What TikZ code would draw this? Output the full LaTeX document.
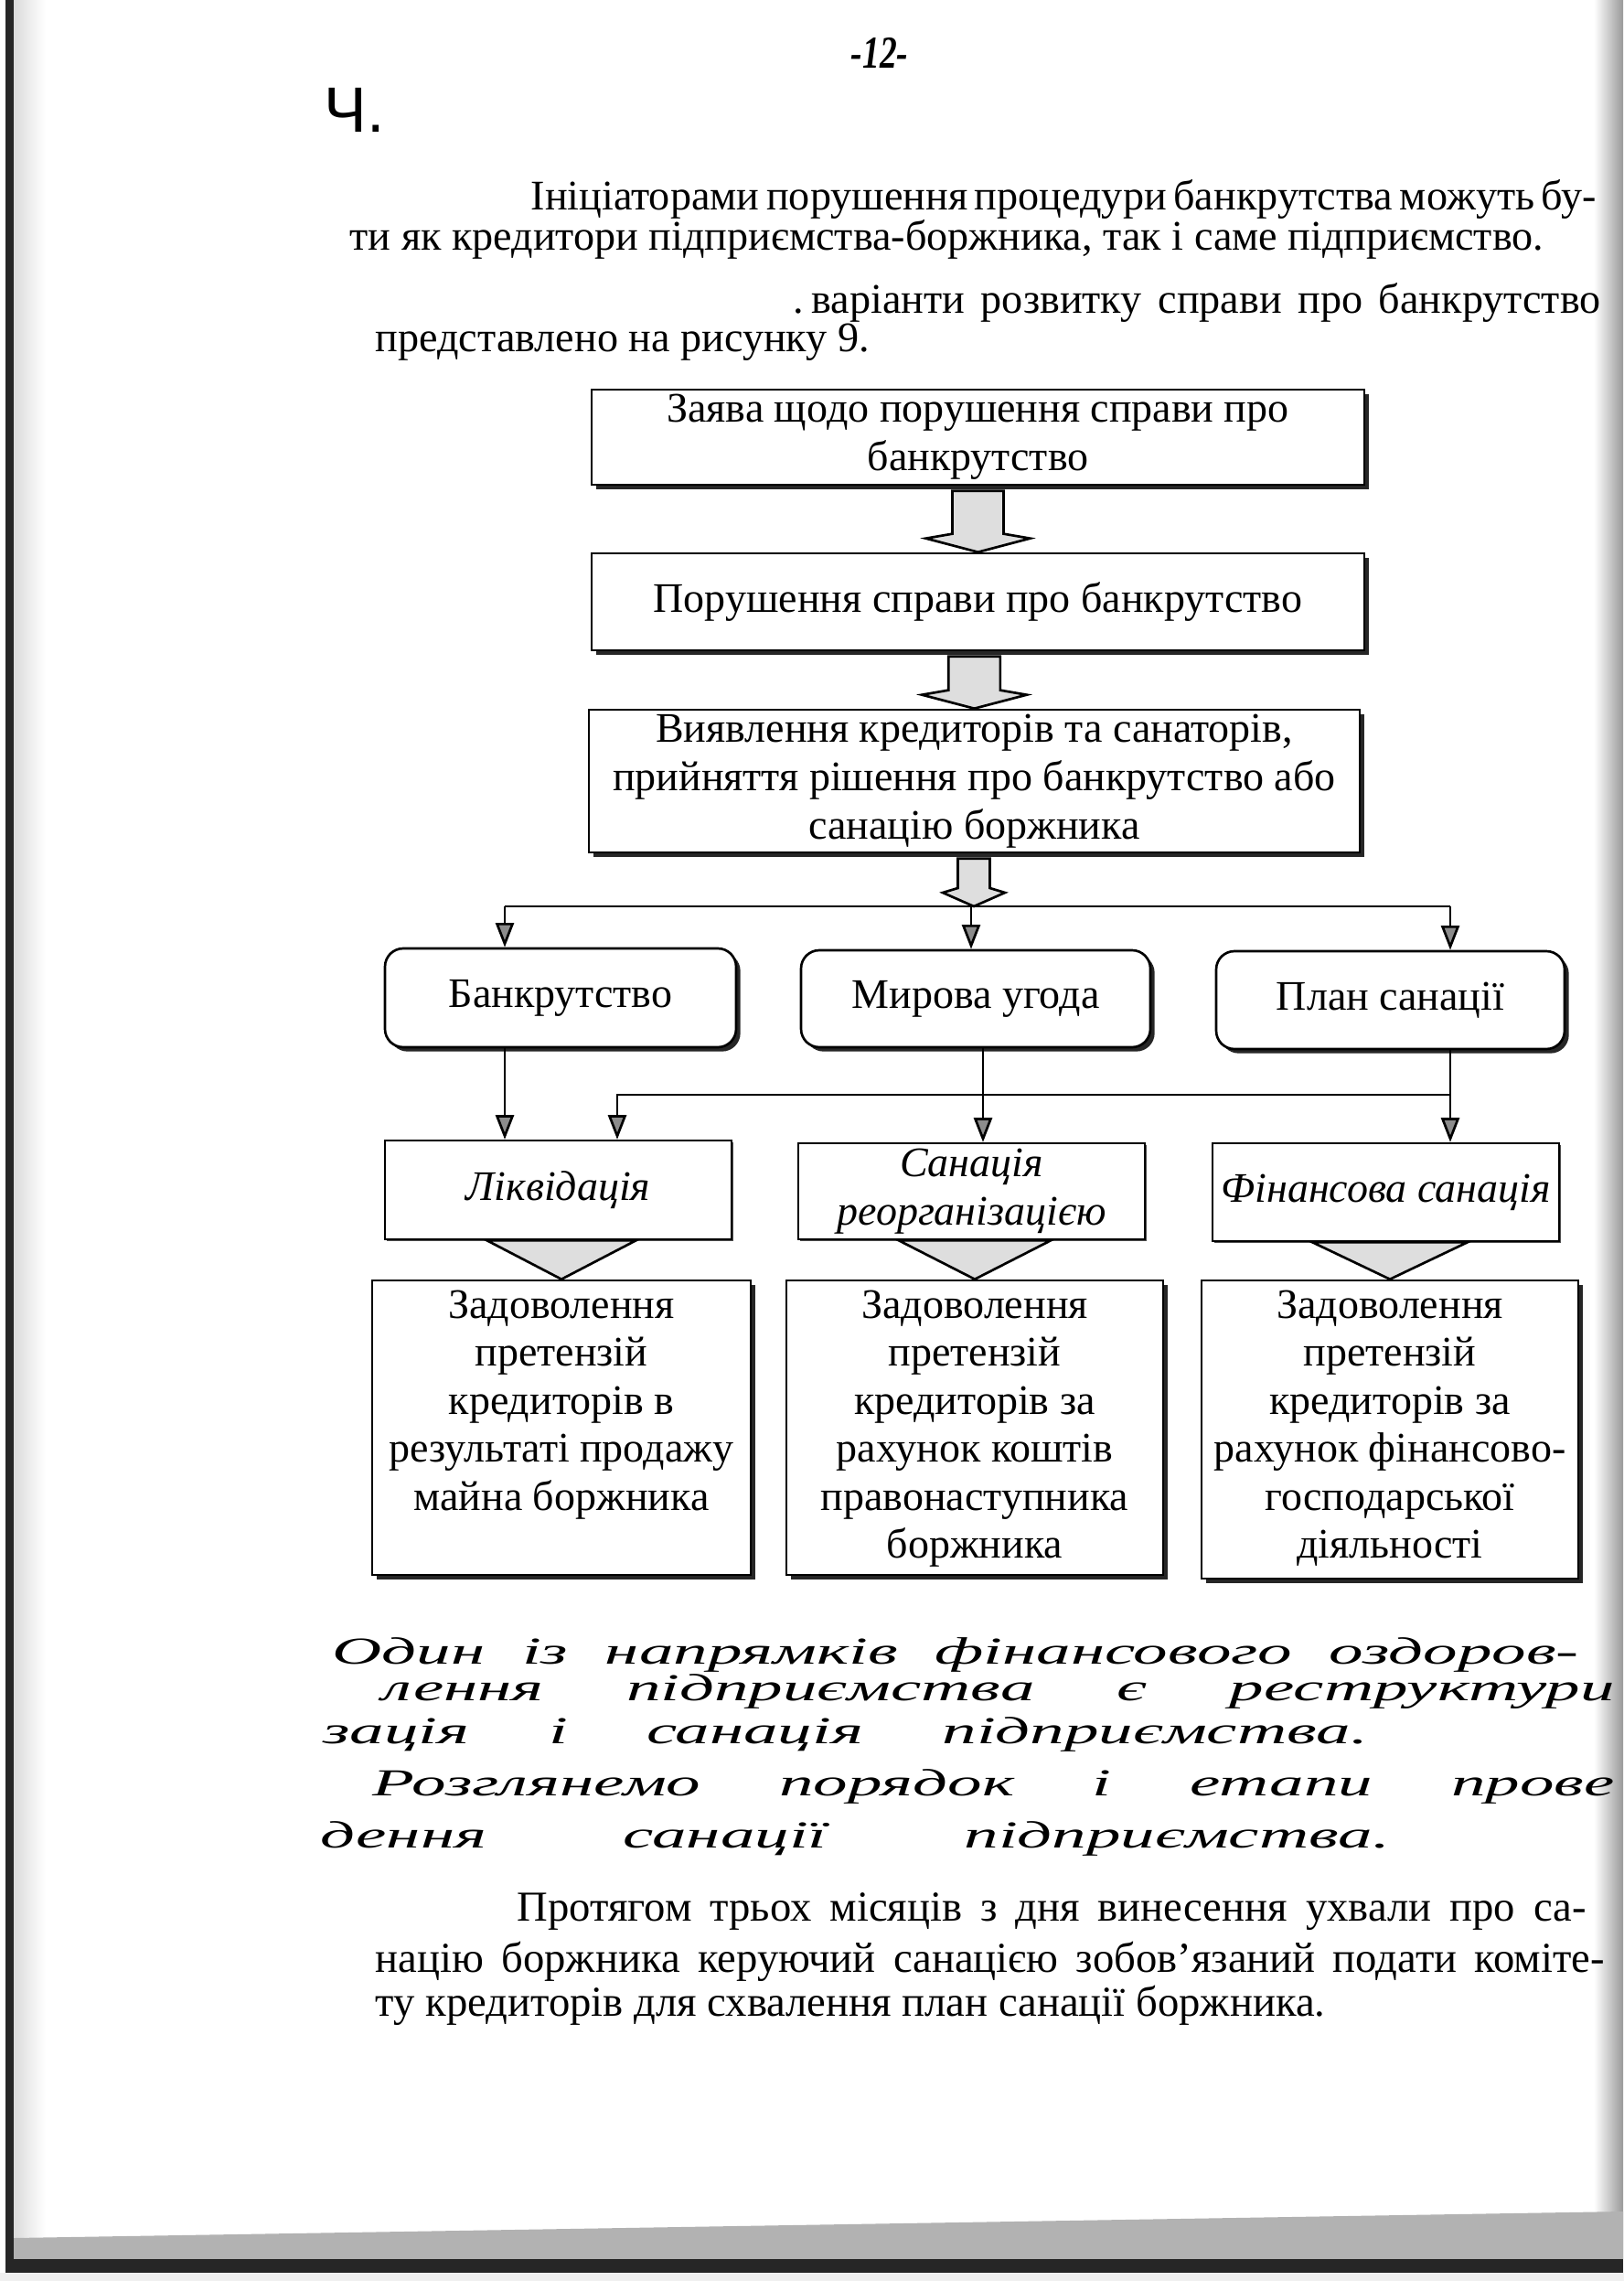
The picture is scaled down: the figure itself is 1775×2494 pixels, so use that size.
\documentclass[tikz,border=0pt]{standalone}
\usepackage{fontspec}
\setmainfont{Liberation Serif}
\newfontfamily\handfont[FakeStretch=1.8]{Liberation Serif}
\newfontfamily\sansf{Liberation Sans}
\usetikzlibrary{shadows,arrows.meta,calc}
\newcommand\fatarr[6]{%
  \draw[fatarrow] let \p1=(#1), \p2=(#2) in
    (\x2-#3,\y1) -- (\x2-#3,\y2+#6) -- (\x2-#4,\y2+#5) -- (\x2,\y2) --
    (\x2+#4,\y2+#5) -- (\x2+#3,\y2+#6) -- (\x2+#3,\y1) -- cycle;}
\tikzset{
  boxfont/.style={font=\fontsize{13.8}{16}\selectfont},
  sqbox/.style={draw, line width=0.8pt, fill=white, inner sep=1pt, align=center, boxfont,
    drop shadow={shadow xshift=1.4pt, shadow yshift=-1.4pt, fill=black, opacity=0.85}},
  rbox/.style={sqbox, rounded corners=6pt},
  ibox/.style={draw, line width=0.7pt, fill=white, inner sep=0pt, align=center,
    font=\fontsize{13.8}{16}\selectfont\itshape,
    drop shadow={shadow xshift=0.7pt, shadow yshift=-0.7pt, fill=black, opacity=0.7}},
  fatarrow/.style={draw, line width=0.8pt, fill=black!13, line join=miter},
  tri/.style={draw, line width=0.8pt, fill=black!13},
  plain/.style={line width=0.8pt},
  conn/.style={line width=0.8pt, -{Triangle[width=6pt,length=8pt,fill=black!45]}},
  para/.style={anchor=base west, inner sep=0pt, font=\fontsize{13.85}{16}\selectfont},
  parb/.style={anchor=base west, inner sep=0pt, font=\fontsize{14}{16}\selectfont},
  hand/.style={anchor=base west, inner sep=0pt, font=\handfont\itshape\fontsize{12.5}{14}\selectfont},
}
\begin{document}
\begin{tikzpicture}[x=0.3pt,y=-0.3pt]
\useasboundingbox (0,0) rectangle (1775,2494);
\fill[white] (0,0) rectangle (1775,2494);
% scan edges
\shade[left color=black!14, right color=white] (15,0) rectangle (50,2494);
\fill[black!85] (6,0) rectangle (15,2494);
\shade[left color=white, right color=black!40] (1743,0) rectangle (1775,2494);
\fill[black!30] (15,2447) -- (1775,2418) -- (1775,2470) -- (15,2470) -- cycle;
\fill[black!85] (6,2470) rectangle (1775,2485);
\fill[black!6] (0,2485) rectangle (1775,2494);

% header
\node[font=\bfseries\itshape\fontsize{15}{16}\selectfont, inner sep=0pt] (pg) at (962,58) {\scalebox{0.75}[1]{-12-}};
\node[font=\sansf\fontsize{21}{24}\selectfont, inner sep=0pt] (ch) at (388,120) {Ч.};

% top paragraph
\node[para] (p1) at (580,230) {\makebox[343.8pt][s]{Ініціаторами порушення процедури банкрутства можуть бу-}};
\node[para] (p2) at (382,274) {ти як кредитори підприємства-боржника, так і саме підприємство.};
\node[para] (p3) at (867,343) {\makebox[264.9pt][s]{.\kern2.5pt варіанти розвитку справи про банкрутство}};
\node[para] (p4) at (410,385) {представлено на рисунку 9.};

% main chain
\node[sqbox, minimum width=253.5pt, minimum height=31.2pt] (A) at (1069.5,478) {Заява щодо порушення справи про\\банкрутство};
\node[sqbox, minimum width=253.5pt, minimum height=31.8pt] (B) at (1069.5,658) {Порушення справи про банкрутство};
\node[sqbox, minimum width=252.9pt, minimum height=46.8pt] (V) at (1065.5,854) {Виявлення кредиторів та санаторів,\\прийняття рішення про банкрутство або\\санацію боржника};

\fatarr{$(A.south)+(0,-1.6pt)$}{B.north}{8.4pt}{17.1pt}{4.5pt}{6pt}
\fatarr{$(B.south)+(0,-1.6pt)$}{V.north}{8.5pt}{17.2pt}{4.5pt}{6pt}
\coordinate (J) at (1065,991);
\fatarr{$(V.south)+(0,-1.6pt)$}{J}{5.25pt}{10.2pt}{4.5pt}{6pt}

% row 2
\node[rbox, minimum width=115.2pt, minimum height=32.4pt] (R1) at (613,1091) {Банкрутство};
\node[rbox, minimum width=114.6pt, minimum height=31.8pt] (R2) at (1067,1092) {Мирова угода};
\node[rbox, minimum width=114.3pt, minimum height=32.1pt] (R3) at (1520.5,1093.5) {План санації};

% row 3
\node[ibox, minimum width=113.7pt, minimum height=32.4pt] (S1) at (610.5,1301) {Ліквідація};
\node[ibox, minimum width=113.7pt, minimum height=31.5pt] (S2) at (1062.5,1302.5) {Санація\\реорганізацією};
\node[ibox, minimum width=113.7pt, minimum height=32.1pt] (S3) at (1515.5,1303.5) {Фінансова санація};

% row 4
\node[sqbox, inner sep=0pt] (D1) at (614,1561) {\parbox[c][96.6pt][t]{124.2pt}{\centering\fontsize{13.8}{15.75}\selectfont\rule{0pt}{12.3pt}Задоволення\\претензій\\кредиторів в\\результаті продажу\\майна боржника}};
\node[sqbox, inner sep=0pt] (D2) at (1066,1561) {\parbox[c][96.6pt][t]{123.6pt}{\centering\fontsize{13.8}{15.75}\selectfont\rule{0pt}{12.3pt}Задоволення\\претензій\\кредиторів за\\рахунок коштів\\правонаступника\\боржника}};
\node[sqbox, inner sep=0pt] (D3) at (1520,1563) {\parbox[c][97.8pt][t]{123.6pt}{\centering\fontsize{13.8}{15.75}\selectfont\rule{0pt}{12.3pt}Задоволення\\претензій\\кредиторів за\\рахунок фінансово-\\господарської\\діяльності}};

% connectors
\coordinate (hl) at (552,991);
\coordinate (hm) at (1062,991);
\coordinate (hr) at (1586,991);
\draw[plain] (hl) -- (hr);
\draw[conn] (hl) -- (hl |- R1.north);
\draw[conn] (hm) -- (hm |- R2.north);
\draw[conn] (hr) -- (hr |- R3.north);
\coordinate (m2) at (1075,1150);
\draw[conn] (hl |- R1.south) -- (hl |- S1.north);
\draw[conn] (m2 |- R2.south) -- (m2 |- S2.north);
\draw[conn] (hr |- R3.south) -- (hr |- S3.north);
\coordinate (k) at (1586,1197);
\coordinate (kl) at (675,1197);
\draw[conn] (k) -- (kl) -- (kl |- S1.north);

% triangles
\draw[tri] ($(D1.north |- S1.south)+(-24.5pt,0)$) -- ($(D1.north |- S1.south)+(24.5pt,0)$) -- (D1.north) -- cycle;
\draw[tri] ($(D2.north |- S2.south)+(-25pt,0)$) -- ($(D2.north |- S2.south)+(25pt,0)$) -- (D2.north) -- cycle;
\draw[tri] ($(D3.north |- S3.south)+(-25.5pt,0)$) -- ($(D3.north |- S3.south)+(25.5pt,0)$) -- (D3.north) -- cycle;

% handwritten notes
\node[hand] (h1) at (363,1819) {\makebox[408.9pt][s]{Один із напрямків фінансового оздоров-}};
\node[hand] (h2) at (417,1859) {\makebox[404.4pt][s]{лення підприємства є реструктури}};
\node[hand] (h3) at (353,1906) {\makebox[342.6pt][s]{зація і санація підприємства.}};
\node[hand] (h4) at (407,1963) {\makebox[407.4pt][s]{Розглянемо порядок і етапи прове}};
\node[hand] (h5) at (350,2020) {\makebox[350.7pt][s]{дення санації підприємства.}};

% bottom paragraph
\node[parb] (q1) at (565,2100) {\makebox[350.7pt][s]{Протягом трьох місяців з дня винесення ухвали про са-}};
\node[parb] (q2) at (410,2156) {\makebox[403.2pt][s]{націю боржника керуючий санацією зобов’язаний подати коміте-}};
\node[parb] (q3) at (410,2204) {ту кредиторів для схвалення план санації боржника.};
\end{tikzpicture}
\end{document}
